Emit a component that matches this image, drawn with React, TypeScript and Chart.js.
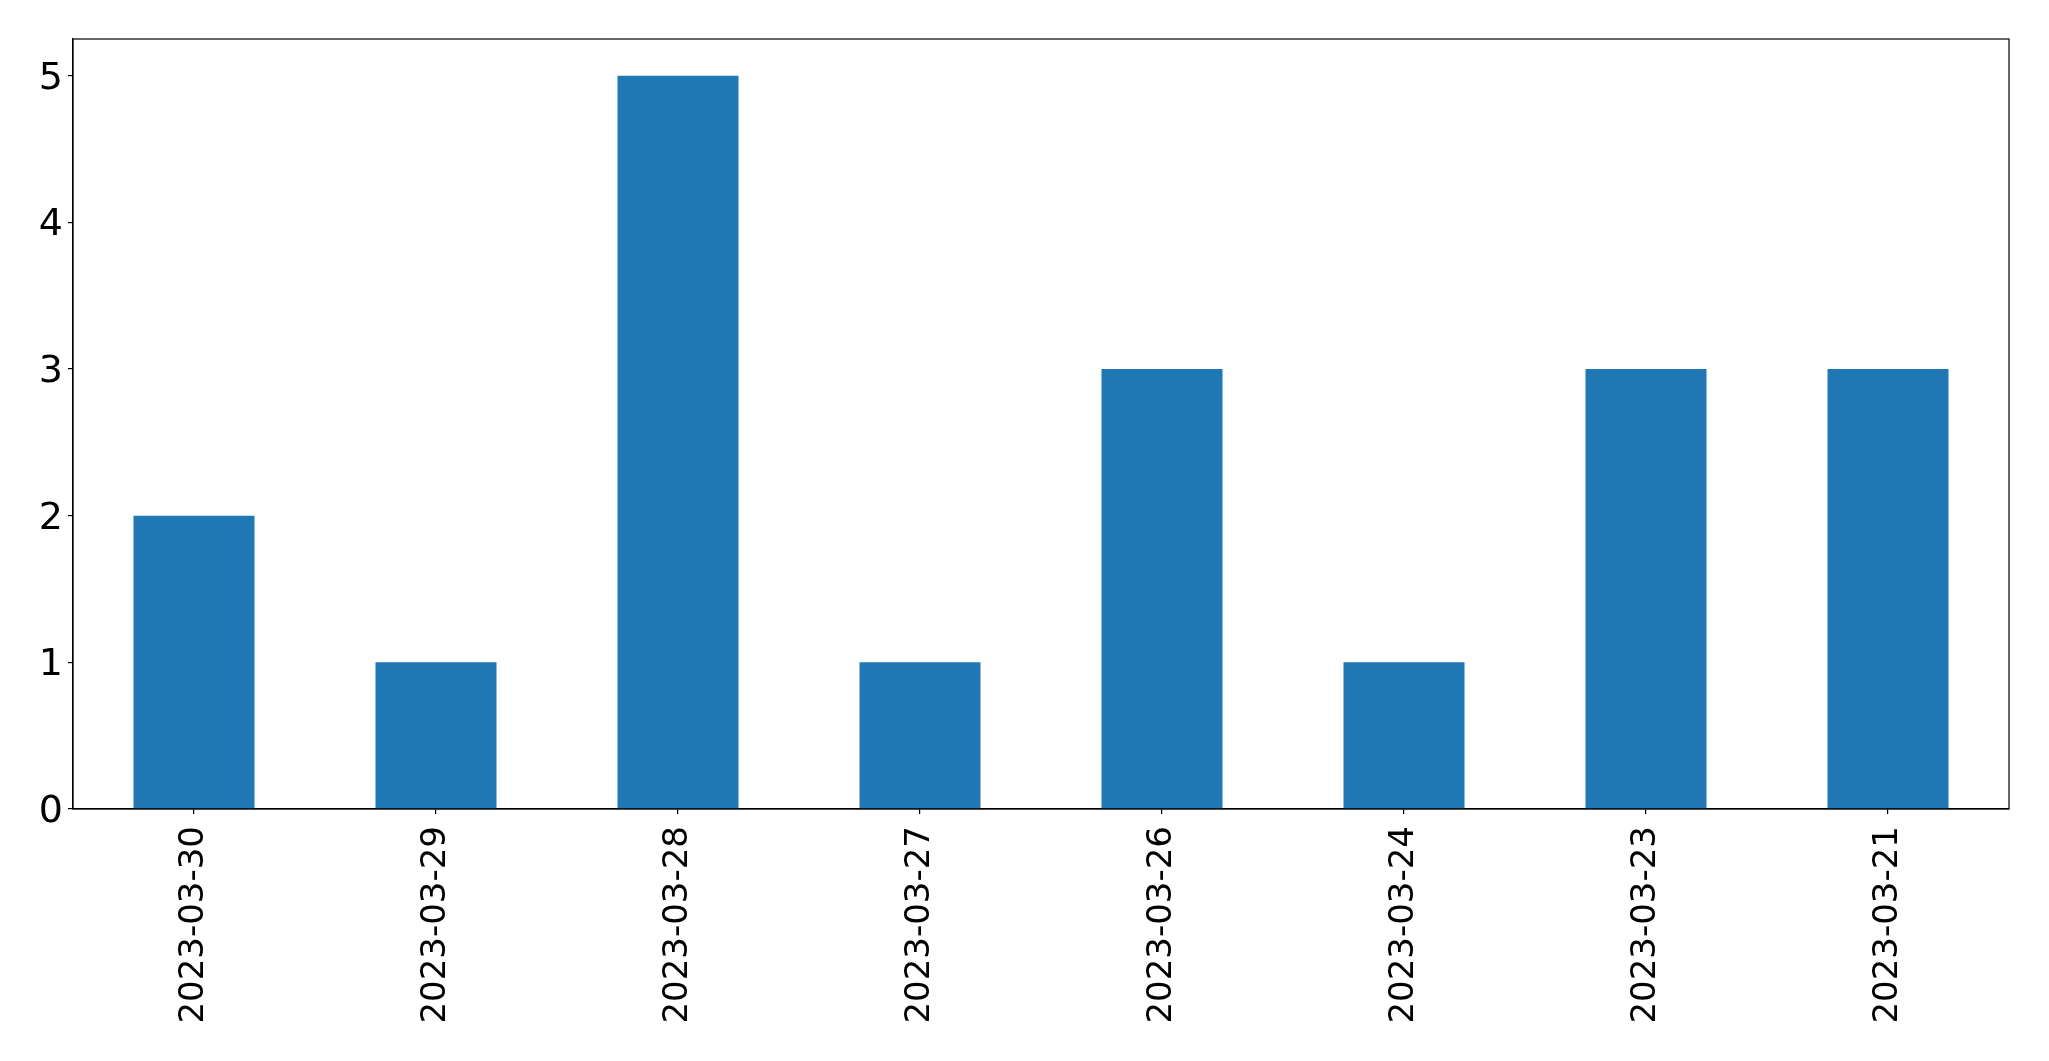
import React, { useEffect, useRef } from "react";
import { Chart, registerables } from "chart.js";

Chart.register(...registerables);

const categories = [
  "2023-03-30",
  "2023-03-29",
  "2023-03-28",
  "2023-03-27",
  "2023-03-26",
  "2023-03-24",
  "2023-03-23",
  "2023-03-21",
];
const counts = [2, 1, 5, 1, 3, 1, 3, 3];
const yMin = 0;
const yMax = 5.25;

const W = 2049;
const H = 1061;

const framePlugin = {
  id: "frame",
  afterDraw(chart: any) {
    const { ctx, chartArea } = chart;
    ctx.save();
    ctx.strokeStyle = "#000";
    ctx.lineWidth = 1.2;
    ctx.strokeRect(chartArea.left, chartArea.top, chartArea.right - chartArea.left, chartArea.bottom - chartArea.top);
    ctx.restore();
  },
};

export default function App() {
  const ref = useRef<HTMLCanvasElement | null>(null);
  useEffect(() => {
    if (!ref.current) return;
    const chart = new Chart(ref.current, {
      type: "bar",
      data: {
        labels: categories,
        datasets: [
          {
            data: counts,
            backgroundColor: "#1f77b4",
            barPercentage: 0.5,
            categoryPercentage: 1,
          },
        ],
      },
      options: {
        responsive: false,
        animation: false,
        devicePixelRatio: 1,
        layout: { padding: { left: 0, top: 39, right: 40, bottom: 0 } },
        plugins: { legend: { display: false }, tooltip: { enabled: false } },
        scales: {
          x: {
            offset: true,
            grid: { display: true, offset: false, drawOnChartArea: false, drawTicks: true, tickLength: 5, tickColor: "#000", lineWidth: 1.2 },
            border: { display: true, color: "#000", width: 1.2 },
            ticks: {
              color: "#000",
              font: { family: "DejaVu Sans", size: 34 },
              minRotation: 90,
              maxRotation: 90,
              autoSkip: false,
              padding: 12,
            },
            afterFit(scale: any) {
              scale.height = 252;
            },
          },
          y: {
            min: yMin,
            max: yMax,
            grid: { display: true, drawOnChartArea: false, drawTicks: true, tickLength: 5, tickColor: "#000", lineWidth: 1.2 },
            border: { display: true, color: "#000", width: 1.2 },
            ticks: {
              stepSize: 1,
              includeBounds: false,
              color: "#000",
              font: { family: "DejaVu Sans", size: 38 },
              padding: 5,
              labelOffset: 3,
            },
            afterFit(scale: any) {
              scale.width = 73;
            },
          },
        },
      },
      plugins: [framePlugin],
    });
    return () => chart.destroy();
  }, []);
  return (
    <div style={{ position: "absolute", left: 0, top: 0, width: W, height: H, background: "#fff" }}>
      <canvas ref={ref} width={W} height={H} style={{ width: W, height: H, display: "block" }} />
    </div>
  );
}
